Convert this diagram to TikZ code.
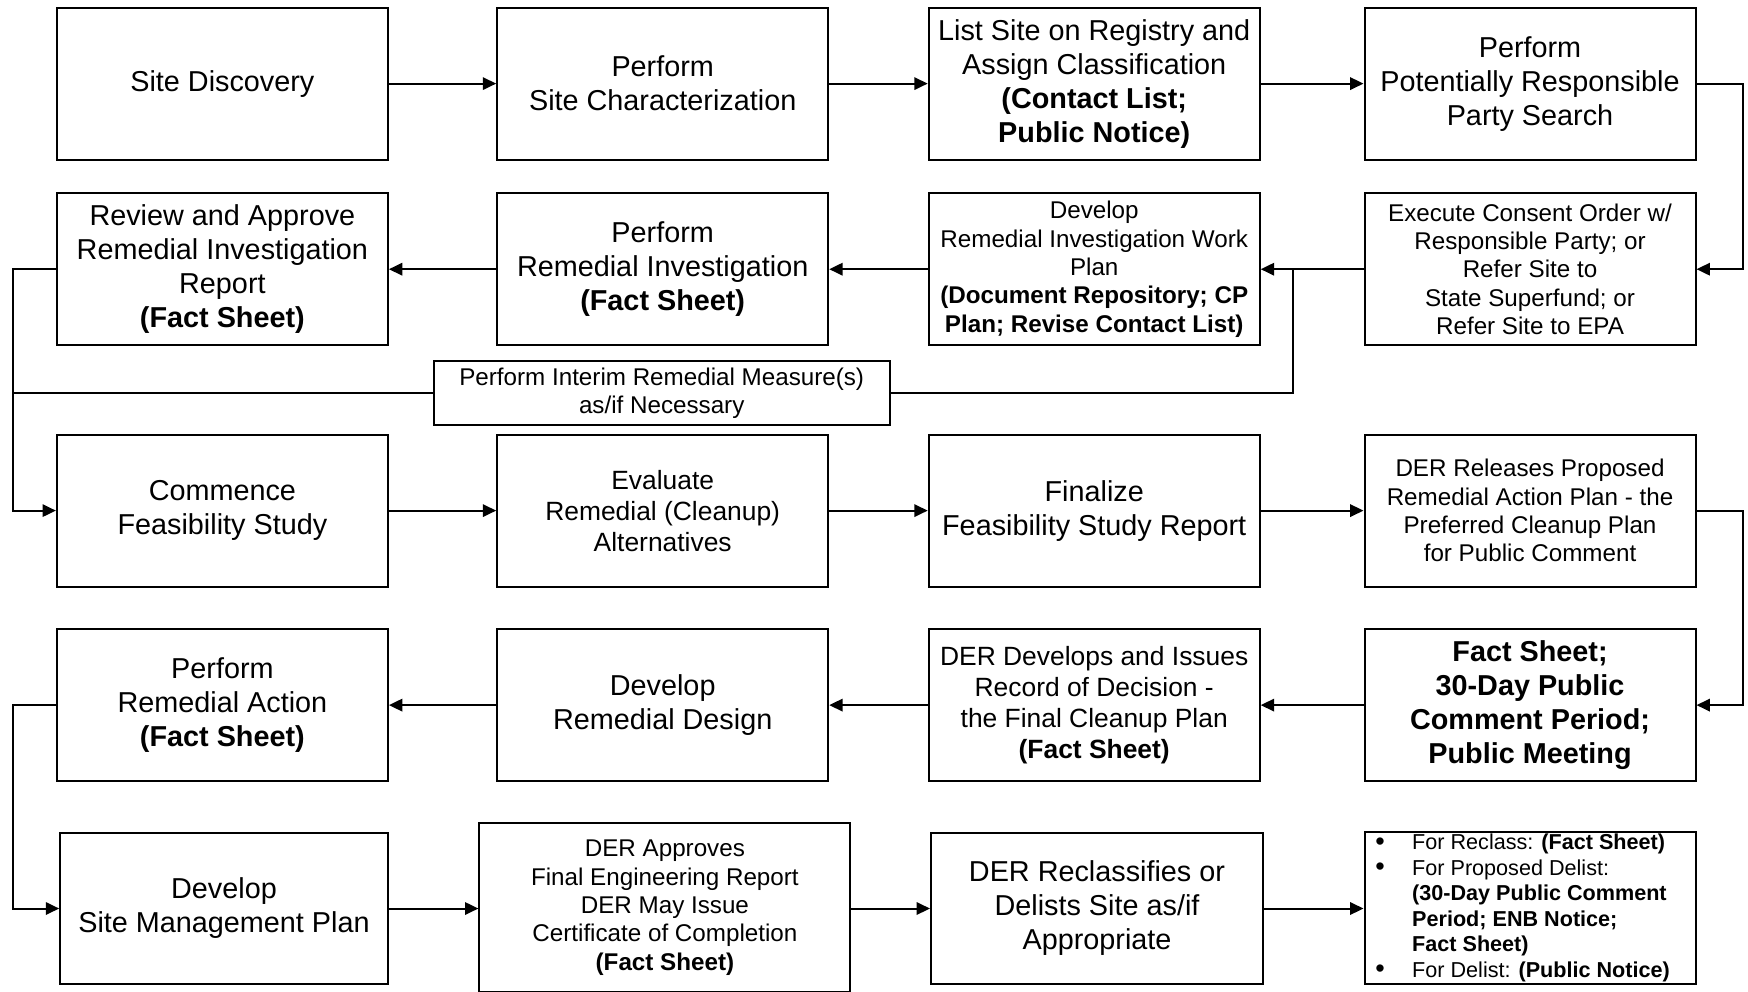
\documentclass[tikz,border=0pt]{standalone}
\usepackage{fontspec}
\setmainfont{Liberation Sans}
\usetikzlibrary{arrows.meta}
\newcommand\szA{\fontsize{14.4}{17}\selectfont}
\newcommand\szB{\fontsize{13.2}{15.5}\selectfont}
\newcommand\szC{\fontsize{12.1}{14.2}\selectfont}
\newcommand\szD{\fontsize{10.8}{12.75}\selectfont}
\newcommand\mybul{\makebox[18.4pt][l]{\raisebox{-0.3pt}{\fontsize{13.5}{12}\selectfont\textbullet}}}
\tikzset{
  box/.style={draw, line width=1pt, align=center, inner sep=0pt,
    minimum width=165.5pt, minimum height=76pt, font=\szA},
  conn/.style={line width=1pt},
  arr/.style={line width=1pt, -{Triangle[length=6.7pt,width=6.2pt]}}
}
\begin{document}
\begin{tikzpicture}[x=0.5pt,y=-0.5pt]
\useasboundingbox (0,0) rectangle (1748,991);
\fill[white] (0,0) rectangle (1748,991);
\coordinate (lx) at (13.4,0);
% Row 1
\node[box] (r1c1) at (222.4,83.6) {Site Discovery};
\node[box] (r1c2) at (662.7,83.6) {Perform\\Site Characterization};
\node[box] (r1c3) at (1094.2,83.6) {List Site on Registry and\\Assign Classification\\\textbf{(Contact List;}\\\textbf{Public Notice)}};
\node[box] (r1c4) at (1530,83.6) {Perform\\Potentially Responsible\\Party Search};
% Row 2
\node[box] (r2c1) at (222.4,269.2) {Review and Approve\\Remedial Investigation\\Report\\\textbf{(Fact Sheet)}};
\node[box] (r2c2) at (662.7,269.2) {Perform\\Remedial Investigation\\\textbf{(Fact Sheet)}};
\node[box, font=\szC] (r2c3) at (1094.2,269.2) {Develop\\Remedial Investigation Work\\Plan\\\textbf{(Document Repository; CP}\\\textbf{Plan; Revise Contact List)}};
\node[box, font=\szC] (r2c4) at (1530,269.2) {Execute Consent Order w/\\Responsible Party; or\\Refer Site to\\State Superfund; or\\Refer Site to EPA};
% Interim
\node[box, font=\szC, minimum width=228pt, minimum height=31.75pt] (interim) at (661.7,393) {Perform Interim Remedial Measure(s)\\as/if Necessary};
% Row 3
\node[box] (r3c1) at (222.4,510.6) {Commence\\Feasibility Study};
\node[box, font=\szB] (r3c2) at (662.7,510.6) {Evaluate\\Remedial (Cleanup)\\Alternatives};
\node[box] (r3c3) at (1094.2,510.6) {Finalize\\Feasibility Study Report};
\node[box, font=\szC] (r3c4) at (1530,510.6) {DER Releases Proposed\\Remedial Action Plan - the\\Preferred Cleanup Plan\\for Public Comment};
% Row 4
\node[box] (r4c1) at (222.4,705.1) {Perform\\Remedial Action\\\textbf{(Fact Sheet)}};
\node[box] (r4c2) at (662.7,705.1) {Develop\\Remedial Design};
\node[box, font=\szB] (r4c3) at (1094.2,705.1) {DER Develops and Issues\\Record of Decision -\\the Final Cleanup Plan\\\textbf{(Fact Sheet)}};
\node[box, font=\szA\bfseries] (r4c4) at (1530,705.1) {Fact Sheet;\\30-Day Public\\Comment Period;\\Public Meeting};
% Row 5
\node[box, minimum width=163.8pt, minimum height=75.5pt] (r5c1) at (224,908.5) {Develop\\Site Management Plan};
\node[box, font=\szC, minimum width=185.5pt, minimum height=84.5pt] (r5c2) at (664.9,907.6) {DER Approves\\Final Engineering Report\\DER May Issue\\Certificate of Completion\\\textbf{(Fact Sheet)}};
\node[box, minimum width=166pt, minimum height=75.5pt] (r5c3) at (1097,908) {DER Reclassifies or\\Delists Site as/if\\Appropriate};
\node[box, minimum height=76.3pt] (r5c4) at (1530,908) {};
\node[anchor=west, align=left, inner sep=0pt, font=\szD] (r5c4t) at (1375,908) {%
\mybul For Reclass: \textbf{(Fact Sheet)}\\
\mybul For Proposed Delist:\\
\hspace*{18.4pt}\textbf{(30-Day Public Comment}\\
\hspace*{18.4pt}\textbf{Period; ENB Notice;}\\
\hspace*{18.4pt}\textbf{Fact Sheet)}\\
\mybul For Delist: \textbf{(Public Notice)}};
% Connectors row 1
\draw[arr] (r1c1) -- (r1c2);
\draw[arr] (r1c2) -- (r1c3);
\draw[arr] (r1c3) -- (r1c4);
\draw[arr] (r1c4.east) -- ++(46.8,0) |- (r2c4.east);
% Row 2
\draw[arr] (r2c4) -- (r2c3);
\draw[arr] (r2c3) -- (r2c2);
\draw[arr] (r2c2) -- (r2c1);
\draw[conn] ([xshift=16.2pt]r2c3.east) |- (interim.east);
\draw[conn] (interim.west) -- (interim.west -| lx);
\draw[arr] (r2c1.west) -- (r2c1.west -| lx) |- (r3c1.west);
% Row 3
\draw[arr] (r3c1) -- (r3c2);
\draw[arr] (r3c2) -- (r3c3);
\draw[arr] (r3c3) -- (r3c4);
\draw[arr] (r3c4.east) -- ++(46.8,0) |- (r4c4.east);
% Row 4
\draw[arr] (r4c4) -- (r4c3);
\draw[arr] (r4c3) -- (r4c2);
\draw[arr] (r4c2) -- (r4c1);
\draw[arr] (r4c1.west) -- (r4c1.west -| lx) |- (r5c1.west);
% Row 5
\draw[arr] (r5c1.east) -- (r5c2.west |- r5c1.east);
\draw[arr] (r5c2.east |- r5c1.east) -- (r5c3.west |- r5c1.east);
\draw[arr] (r5c3.east |- r5c1.east) -- (r5c4.west |- r5c1.east);
\end{tikzpicture}
\end{document}
